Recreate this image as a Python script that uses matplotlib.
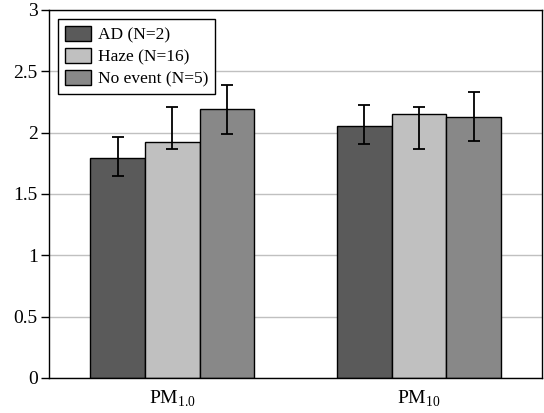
import numpy as np
import matplotlib
matplotlib.use('Agg')
import matplotlib.pyplot as plt

plt.rcParams['font.family'] = 'Liberation Serif'
plt.rcParams['mathtext.fontset'] = 'custom'
plt.rcParams['mathtext.rm'] = 'Liberation Serif'

groups = ['PM$_{\\mathrm{1.0}}$', 'PM$_{\\mathrm{10}}$']
series = ['AD (N=2)', 'Haze (N=16)', 'No event (N=5)']
colors = ['#5a5a5a', '#c0c0c0', '#888888']

# mean, lower and upper end of error bar
means = [[1.79, 2.05],
         [1.92, 2.155],
         [2.19, 2.13]]
lows = [[1.65, 1.905],
        [1.867, 1.867],
        [1.987, 1.93]]
highs = [[1.967, 2.225],
         [2.205, 2.205],
         [2.385, 2.33]]

fig, ax = plt.subplots(figsize=(5.44, 4.13), dpi=100)
fig.subplots_adjust(left=0.09, right=0.997, top=0.976, bottom=0.085)

x = np.arange(len(groups))
w = 0.222
for i in range(len(series)):
    m = np.array(means[i])
    lo = m - np.array(lows[i])
    hi = np.array(highs[i]) - m
    ax.bar(x + (i - 1) * w, m, w, color=colors[i], edgecolor='black',
           linewidth=1, label=series[i], zorder=2,
           yerr=[lo, hi], capsize=4,
           error_kw=dict(ecolor='black', elinewidth=1.3, capthick=1.3))

ax.set_xlim(-0.5, 1.5)
ax.set_ylim(0, 3)
ax.set_yticks([0, 0.5, 1, 1.5, 2, 2.5, 3])
ax.set_yticklabels(['0', '0.5', '1', '1.5', '2', '2.5', '3'])
ax.set_xticks(x)
ax.set_xticklabels(groups)
ax.tick_params(axis='y', direction='out', length=6, width=1, labelsize=14, pad=2)
ax.tick_params(axis='x', length=0, labelsize=14, pad=8)
ax.yaxis.grid(True, color='#c0c0c0', linewidth=1)
ax.set_axisbelow(True)
for s in ax.spines.values():
    s.set_linewidth(1)
    s.set_color('black')

leg = ax.legend(loc='upper left', fontsize=12.5, frameon=True, fancybox=False,
                edgecolor='black', framealpha=1, borderpad=0.4,
                handlelength=1.5, handleheight=1.0, handletextpad=0.4,
                labelspacing=0.25, borderaxespad=0.5)
leg.get_frame().set_linewidth(1)

fig.savefig('out.png', dpi=100)
